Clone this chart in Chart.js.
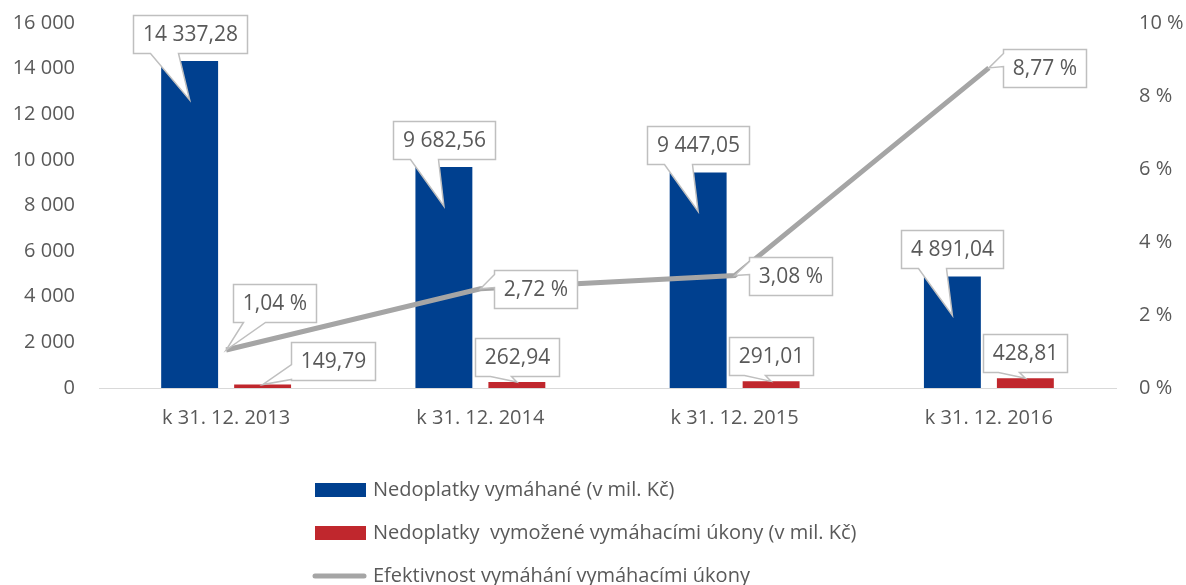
<!DOCTYPE html>
<html>
<head>
<meta charset="utf-8">
<script src="https://cdn.jsdelivr.net/npm/chart.js@4"></script>
<style>
    html, body { margin: 0; padding: 0; background: #fff; }
    #wrap { width: 1186px; height: 585px; }
</style>
</head>
<body>
<div id="wrap"><canvas id="chart" width="1186" height="585"></canvas></div>
<script>
const categories = ['k 31. 12. 2013', 'k 31. 12. 2014', 'k 31. 12. 2015', 'k 31. 12. 2016'];
const vymahane = [14337.28, 9682.56, 9447.05, 4891.04];
const vymozene = [149.79, 262.94, 291.01, 428.81];
const efektivnost = [1.04, 2.72, 3.08, 8.77];
const leftTicks = [0, 2000, 4000, 6000, 8000, 10000, 12000, 14000, 16000];
const rightTicks = [0, 2, 4, 6, 8, 10];

const seriesNames = [
    'Nedoplatky vymáhané (v mil. Kč)',
    'Nedoplatky  vymožené vymáhacími úkony (v mil. Kč)',
    'Efektivnost vymáhání vymáhacími úkony'
];

const textColor = '#595959';
const fontFamily = "'Open Sans', 'Noto Sans', sans-serif";

Chart.defaults.font.family = fontFamily;
Chart.defaults.color = textColor;

function fmtNum(v) {
    const parts = v.toFixed(2).split('.');
    return parts[0].replace(/\B(?=(\d{3})+(?!\d))/g, ' ') + ',' + parts[1];
}

function fmtPct(v) {
    return v.toFixed(2).replace('.', ',') + ' %';
}

// where each callout box sits relative to its bar/point
function calloutPlacement(di, i, x, y, w, h) {
    if (di === 0) {
        return {l: x - w / 2, t: y - 8 - h, side: 'bottom', a: 17, b: 45, tipX: x, tipY: y + 39};
    }
    if (di === 1) {
        if (i === 0) {
            return {l: x + 28, t: y - 5 - h, side: 'left', a: h - 16, b: h - 1, tipX: x, tipY: y};
        }
        return {l: x - w / 2, t: y - 6 - h, side: 'bottom', a: 15, b: 36, tipX: x, tipY: y};
    }
    if (i === 0) {
        return {l: x + 7, t: y - 28 - h, side: 'bottom', a: 10, b: 32, tipX: x, tipY: y};
    }
    return {l: x + 14, t: y - 19, side: 'left', a: 4, b: 17, tipX: x, tipY: y};
}

const calloutPlugin = {
    id: 'callouts',
    afterDatasetsDraw(chart) {
        const ctx = chart.ctx;
        ctx.save();
        ctx.font = "21px " + fontFamily;
        chart.data.datasets.forEach((ds, di) => {
            const meta = chart.getDatasetMeta(di);
            meta.data.forEach((el, i) => {
                const text = di === 2 ? fmtPct(ds.data[i]) : fmtNum(ds.data[i]);
                const w = Math.round(ctx.measureText(text).width + 19);
                const h = 38;
                const p = calloutPlacement(di, i, el.x, el.y, w, h);
                const l = Math.round(p.l) + 0.5, t = Math.round(p.t) + 0.5;
                const r = l + w, btm = t + h;

                ctx.beginPath();
                ctx.moveTo(l, t);
                ctx.lineTo(r, t);
                ctx.lineTo(r, btm);
                if (p.side === 'bottom') {
                    ctx.lineTo(l + p.b, btm);
                    ctx.lineTo(p.tipX, p.tipY);
                    ctx.lineTo(l + p.a, btm);
                }
                ctx.lineTo(l, btm);
                if (p.side === 'left') {
                    ctx.lineTo(l, t + p.b);
                    ctx.lineTo(p.tipX, p.tipY);
                    ctx.lineTo(l, t + p.a);
                }
                ctx.closePath();
                ctx.fillStyle = '#ffffff';
                ctx.fill();
                ctx.strokeStyle = '#bfbfbf';
                ctx.lineWidth = 1.5;
                ctx.lineJoin = 'miter';
                ctx.stroke();

                ctx.fillStyle = textColor;
                ctx.textAlign = 'center';
                ctx.textBaseline = 'middle';
                ctx.fillText(text, l + w / 2, t + h / 2 + 1);
            });
        });
        ctx.restore();
    }
};

const legendPlugin = {
    id: 'stackedLegend',
    afterDraw(chart) {
        const ctx = chart.ctx;
        ctx.save();
        ctx.font = "20px " + fontFamily;
        ctx.textAlign = 'left';
        ctx.textBaseline = 'middle';
        chart.data.datasets.forEach((ds, di) => {
            const cy = 490 + di * 43;
            if (ds.type === 'line') {
                ctx.strokeStyle = ds.borderColor;
                ctx.lineWidth = 5;
                ctx.lineCap = 'round';
                ctx.beginPath();
                ctx.moveTo(315, cy);
                ctx.lineTo(364, cy);
                ctx.stroke();
            } else {
                ctx.fillStyle = ds.backgroundColor;
                ctx.fillRect(315, cy - 7, 51, 14);
            }
            ctx.fillStyle = textColor;
            ctx.fillText(ds.label, 373, cy);
        });
        ctx.restore();
    }
};

const ctx = document.getElementById('chart').getContext('2d');

new Chart(ctx, {
    type: 'bar',
    data: {
        labels: categories,
        datasets: [
            {
                label: seriesNames[0],
                data: vymahane,
                backgroundColor: '#00408f',
                borderWidth: 0,
                yAxisID: 'y',
                order: 1,
                categoryPercentage: 0.574,
                barPercentage: 0.78
            },
            {
                label: seriesNames[1],
                data: vymozene,
                backgroundColor: '#c0272d',
                borderWidth: 0,
                yAxisID: 'y',
                order: 1,
                categoryPercentage: 0.574,
                barPercentage: 0.78
            },
            {
                type: 'line',
                label: seriesNames[2],
                data: efektivnost,
                borderColor: '#a5a5a5',
                backgroundColor: '#a5a5a5',
                borderWidth: 5,
                pointRadius: 0,
                tension: 0,
                fill: false,
                yAxisID: 'y1',
                order: 0
            }
        ]
    },
    options: {
        responsive: false,
        animation: false,
        devicePixelRatio: 1,
        layout: {padding: {top: 23, left: 0, right: 0, bottom: 0}},
        plugins: {
            legend: {display: false},
            tooltip: {enabled: false}
        },
        scales: {
            x: {
                grid: {display: false, drawTicks: false},
                border: {display: true, color: '#d9d9d9', width: 1},
                ticks: {font: {size: 20}, color: textColor, padding: 18},
                afterFit: (scale) => { scale.height = 197; }
            },
            y: {
                position: 'left',
                min: leftTicks[0],
                max: leftTicks[leftTicks.length - 1],
                grid: {display: false, drawTicks: false},
                border: {display: false},
                ticks: {
                    stepSize: leftTicks[1] - leftTicks[0],
                    font: {size: 20},
                    color: textColor,
                    padding: 24,
                    callback: (v) => String(v).replace(/\B(?=(\d{3})+(?!\d))/g, ' ')
                },
                afterFit: (scale) => {
                    scale.width = 99;
                    scale.paddingTop = 0;
                    scale.paddingBottom = 0;
                }
            },
            y1: {
                position: 'right',
                min: rightTicks[0],
                max: rightTicks[rightTicks.length - 1],
                grid: {display: false, drawTicks: false},
                border: {display: false},
                ticks: {
                    stepSize: rightTicks[1] - rightTicks[0],
                    font: {size: 20},
                    color: textColor,
                    padding: 23,
                    callback: (v) => v + ' %'
                },
                afterFit: (scale) => {
                    scale.width = 70;
                    scale.paddingTop = 0;
                    scale.paddingBottom = 0;
                }
            }
        }
    },
    plugins: [calloutPlugin, legendPlugin]
});
</script>
</body>
</html>
